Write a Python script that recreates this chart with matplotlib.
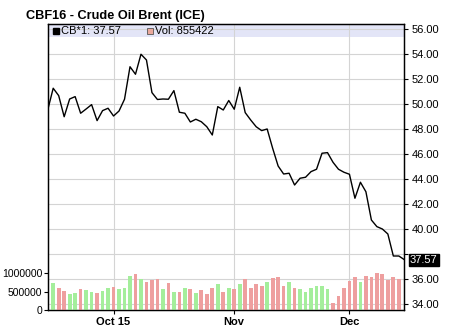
import matplotlib
matplotlib.use("Agg")
import matplotlib.pyplot as plt
from matplotlib.patches import Rectangle

# CBF16 daily closes, Sep 15 - Dec 15 2015 (trading days)
price = [49.54, 51.28, 50.69, 49.00, 50.42, 50.61, 49.28, 49.62, 49.97, 48.69,
         49.49, 49.68, 49.06, 49.46, 50.40, 53.00, 52.40, 54.00, 53.54, 50.93,
         50.38, 50.42, 50.40, 51.09, 49.36, 49.28, 48.58, 48.80, 48.60, 48.20,
         47.54, 49.81, 49.54, 50.30, 49.60, 51.36, 49.33, 48.74, 48.20, 47.89,
         48.02, 46.48, 45.06, 44.42, 44.48, 43.54, 44.08, 44.16, 44.61, 44.80,
         46.08, 46.13, 45.36, 44.80, 44.56, 44.40, 42.48, 43.76, 43.00, 40.74,
         40.21, 40.02, 39.62, 37.86, 37.86, 37.57]

volume = [745000, 591000, 518000, 436000, 473000, 573000, 545000, 491000, 473000, 527000,
          600000, 627000, 582000, 600000, 927000, 991000, 845000, 773000, 818000, 845000,
          582000, 745000, 491000, 491000, 600000, 573000, 455000, 545000, 436000, 600000,
          709000, 491000, 600000, 573000, 709000, 845000, 600000, 709000, 655000, 764000,
          873000, 900000, 655000, 764000, 600000, 573000, 491000, 600000, 655000, 655000,
          573000, 191000, 382000, 600000, 791000, 900000, 764000, 927000, 900000, 1009000,
          982000, 818000, 900000, 855422]
updown = "GRRGGRGGRGGRGGGRGRRRGRGRGRGRRRGRGRGRRRRGRRRGRGGGGGGRRRRRGRRRRRRR"

month_idx = [12, 34, 55]
month_lbl = ["Oct 15", "Nov", "Dec"]
price_ticks = list(range(34, 57, 2))
vol_ticks = [0, 500000, 1000000]

title = "CBF16 - Crude Oil Brent (ICE)"
last_price = 37.57
last_vol = 855422

plt.rcParams["font.family"] = ["Liberation Sans", "DejaVu Sans"]
plt.rcParams["font.size"] = 8

fig = plt.figure(figsize=[4.71, 3.30], dpi=100)
ax = fig.add_axes([0.1013, 0.0606, 0.7571, 0.8667])
axv = ax.twinx()
ax.yaxis.tick_right()
axv.yaxis.tick_left()

xx = list(range(len(price)))
ax.plot(xx, price, color="black", lw=1.0, zorder=3)
ax.set_ylim(33.54, 56.42)
ax.set_xlim(0, 65)
ax.set_yticks(price_ticks)
ax.set_yticklabels(["" if abs(p - last_price) < 1.0 else "%.2f" % p for p in price_ticks])
ax.set_xticks(month_idx)
ax.set_xticklabels(month_lbl, fontweight="bold")
ax.grid(True, color="#d4d4d4", lw=0.8)
ax.set_axisbelow(True)
ax.tick_params(axis="both", length=3, width=0.8, pad=2, direction="out")

# header band
ax.add_patch(Rectangle((0, 0.9545), 1, 0.0455, transform=ax.transAxes,
                       facecolor="#e3e5f7", edgecolor="none", zorder=0.5))

colors = ["#a4ee9b" if c == "G" else "#ee9f9f" for c in updown]
bx = list(range(1, len(volume) + 1))
axv.bar(bx, volume, width=0.68, color=colors, zorder=2)
axv.set_ylim(0, 7.79e6)
axv.set_yticks(vol_ticks)
axv.set_yticklabels([str(v) for v in vol_ticks], fontsize=7.5)
axv.tick_params(axis="y", length=3, width=0.8, pad=1)

for a in (ax, axv):
    for s in a.spines.values():
        s.set_color("black")
        s.set_linewidth(0.9)

axv.plot([0.0235], [0.977], marker="s", ms=5, color="black", transform=axv.transAxes, clip_on=False)
axv.text(0.036, 0.977, "CB*1: %.2f" % last_price, transform=axv.transAxes, va="center", ha="left", fontsize=8)
axv.plot([0.286], [0.977], marker="s", ms=5, mfc="#eaa89c", mec="#555555", mew=0.6,
         transform=axv.transAxes, clip_on=False)
axv.text(0.300, 0.977, "Vol: %d" % last_vol, transform=axv.transAxes, va="center", ha="left", fontsize=8)

ax.annotate("%.2f" % last_price, xy=(1.0, last_price), xycoords=("axes fraction", "data"),
            xytext=(4, 0), textcoords="offset points", va="center", ha="left",
            color="white", fontsize=8,
            bbox=dict(boxstyle="square,pad=0.1", fc="black", ec="black"))

fig.text(26 / 471, 1 - 16 / 330, title, fontsize=9.2, fontweight="bold", va="center", ha="left")

fig.savefig("out.png", dpi=100)
